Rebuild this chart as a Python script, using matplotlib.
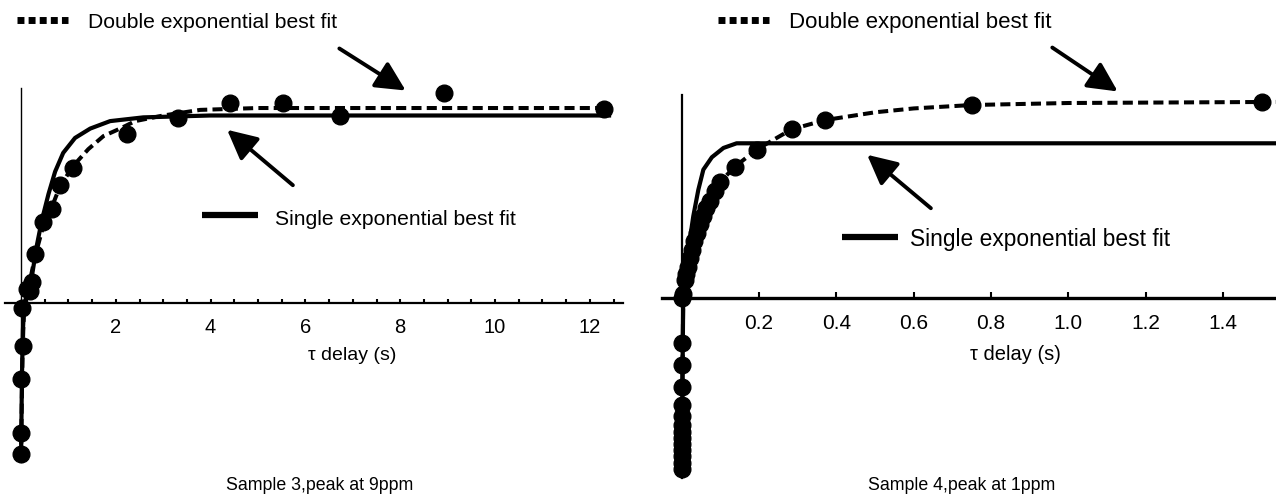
import matplotlib.pyplot as plt
from matplotlib.lines import Line2D
from matplotlib.patches import FancyArrowPatch

W, H = 1276, 495
plt.rcParams['font.family'] = ['Liberation Sans', 'DejaVu Sans']

# sample 3, peak at 9 ppm (left panel)
s3_delay = [0.0, 0.0, 0.0, 0.05, 0.015, 0.12, 0.19, 0.23, 0.30, 0.47, 0.65,
            0.82, 1.10, 2.23, 3.32, 4.41, 5.53, 6.73, 8.92, 12.3]
s3_signal = [-0.81, -0.70, -0.41, -0.23, -0.03, 0.07, 0.06, 0.11, 0.26, 0.43, 0.50,
             0.63, 0.72, 0.90, 0.985, 1.065, 1.065, 1.0, 1.12, 1.035]
s3_single_x = [0.0, 0.02, 0.04, 0.06, 0.09, 0.23, 0.33, 0.44, 0.58, 0.72, 0.89,
               1.14, 1.46, 1.88, 2.58, 3.99, 12.45]
s3_single_y = [-0.84, -0.40, -0.15, -0.05, 0.01, 0.14, 0.30, 0.44, 0.58, 0.70, 0.80,
               0.88, 0.93, 0.97, 0.99, 1.0, 1.0]
s3_double_x = [0.0, 0.03, 0.06, 0.15, 0.30, 0.47, 0.65, 0.82, 1.10, 1.42, 1.74,
               2.09, 2.41, 3.0, 3.78, 5.0, 12.45]
s3_double_y = [-0.84, -0.30, -0.05, 0.07, 0.25, 0.41, 0.51, 0.62, 0.73, 0.82, 0.89,
               0.93, 0.97, 1.0, 1.03, 1.04, 1.04]
s3_ticks = [2, 4, 6, 8, 10, 12]
s3_minor = [0.5 * i for i in range(1, 26)]

# sample 4, peak at 1 ppm (right panel)
s4_delay = [0.001, 0.001, 0.001, 0.001, 0.001, 0.001, 0.001, 0.001, 0.001, 0.001,
            0.001, 0.001, 0.001, 0.002, 0.004, 0.009, 0.012, 0.017, 0.021, 0.026,
            0.032, 0.039, 0.047, 0.056, 0.064, 0.073, 0.085, 0.099, 0.138, 0.194,
            0.284, 0.371, 0.75, 1.5]
s4_signal = [-1.10, -1.06, -1.02, -0.98, -0.94, -0.90, -0.86, -0.82, -0.76, -0.69,
             -0.57, -0.43, -0.29, 0.0, 0.03, 0.12, 0.16, 0.20, 0.26, 0.31,
             0.37, 0.42, 0.48, 0.53, 0.58, 0.63, 0.69, 0.75, 0.85, 0.96,
             1.09, 1.15, 1.247, 1.267]
s4_single_x = [0.0, 0.002, 0.004, 0.017, 0.03, 0.043, 0.056, 0.078, 0.108, 0.142, 1.54]
s4_single_y = [-1.12, -0.55, 0.02, 0.31, 0.53, 0.70, 0.83, 0.91, 0.97, 1.0, 1.0]
s4_double_x = [0.0, 0.002, 0.004, 0.009, 0.017, 0.026, 0.039, 0.056, 0.073, 0.099,
               0.138, 0.194, 0.284, 0.371, 0.5, 0.6, 0.75, 1.0, 1.54]
s4_double_y = [-1.12, -0.50, 0.03, 0.12, 0.20, 0.31, 0.42, 0.53, 0.63, 0.75,
               0.85, 0.96, 1.09, 1.15, 1.20, 1.225, 1.247, 1.26, 1.267]
s4_ticks = [0.2, 0.4, 0.6, 0.8, 1.0, 1.2, 1.4]
s4_tick_labels = ["0.2", "0.4", "0.6", "0.8", "1.0", "1.2", "1.4"]


def px(x, y):
    return x / W, 1 - y / H


def panel(fig, box, xlim, ylim, spine_w):
    left, top, right, bottom = box
    ax = fig.add_axes([left / W, 1 - bottom / H, (right - left) / W, (bottom - top) / H])
    ax.set_xlim(*xlim)
    ax.set_ylim(*ylim)
    for side in ("top", "right"):
        ax.spines[side].set_visible(False)
    ax.spines["left"].set_position(("data", 0))
    ax.spines["bottom"].set_position(("data", 0))
    ax.spines["left"].set_linewidth(spine_w[0])
    ax.spines["bottom"].set_linewidth(spine_w[1])
    ax.set_yticks([])
    ax.patch.set_visible(False)
    return ax


def draw_fits(ax, sx, sy, dx, dy, tx, ty):
    ax.plot(sx, sy, color="black", lw=3.0, solid_capstyle="butt", zorder=3)
    ax.plot(dx, dy, color="black", lw=2.9, linestyle=(0, (2.5, 1.3)),
            dash_capstyle="butt", zorder=3)
    ax.plot(tx, ty, "o", color="black", markersize=12, clip_on=False, zorder=4)


def squares(fig, x0, x1, y):
    fig.add_artist(Line2D([x0 / W, x1 / W], [1 - y / H, 1 - y / H], transform=fig.transFigure,
                          color="black", lw=5, linestyle=(0, (1.0, 0.6)), dash_capstyle="butt"))


def solid_sample(fig, x0, x1, y):
    fig.add_artist(Line2D([x0 / W, x1 / W], [1 - y / H, 1 - y / H], transform=fig.transFigure,
                          color="black", lw=4.5, solid_capstyle="butt"))


def arrow(fig, tail, tip):
    fig.add_artist(FancyArrowPatch(px(*tail), px(*tip), transform=fig.transFigure,
                                   arrowstyle="-|>,head_length=0.9,head_width=0.45",
                                   mutation_scale=20, lw=2.8, color="black"))


fig = plt.figure(figsize=(W / 100, H / 100), dpi=100)

# left panel
ax1 = panel(fig, (5, 88, 623, 462), (-16 / 47.4, 602 / 47.4),
            ((302.5 - 462) / 187, (302.5 - 88) / 187), (1.0, 1.6))
draw_fits(ax1, s3_single_x, s3_single_y, s3_double_x, s3_double_y, s3_delay, s3_signal)
ax1.set_xticks(s3_ticks)
ax1.set_xticks(s3_minor, minor=True)
ax1.tick_params(axis="x", which="both", direction="in", length=3, width=1.5,
                labelsize=14.5, pad=11)

# right panel
ax2 = panel(fig, (662, 95, 1276, 478), (-19.7 / 386.7, 594.3 / 386.7),
            ((298.3 - 478) / 155, (298.3 - 95) / 155), (1.6, 2.4))
draw_fits(ax2, s4_single_x, s4_single_y, s4_double_x, s4_double_y, s4_delay, s4_signal)
ax2.set_xticks(s4_ticks)
ax2.set_xticklabels(s4_tick_labels)
ax2.tick_params(axis="x", which="both", direction="in", length=4, width=1.5,
                labelsize=15, pad=11)

# legends, arrows and captions
squares(fig, 17, 68, 20)
fig.text(*px(88, 28), "Double exponential best fit", fontsize=15.2, va="baseline")
arrow(fig, (337, 47), (408, 92))
solid_sample(fig, 202, 258, 215)
fig.text(*px(275, 225), "Single exponential best fit", fontsize=15.2, va="baseline")
arrow(fig, (295, 187), (225, 128))

squares(fig, 718, 769, 20)
fig.text(*px(789, 28), "Double exponential best fit", fontsize=16, va="baseline")
arrow(fig, (1050, 46), (1120, 93))
solid_sample(fig, 842, 898, 237)
fig.text(*px(910, 246), "Single exponential best fit", fontsize=16.4, va="baseline")
arrow(fig, (933, 210), (865, 153))

fig.text(*px(352, 360), "\u03c4 delay (s)", fontsize=14, ha="center", va="baseline")
fig.text(*px(1015, 360), "\u03c4 delay (s)", fontsize=14.5, ha="center", va="baseline")
fig.text(*px(320, 490), "Sample 3,peak at 9ppm", fontsize=12.8, ha="center", va="baseline")
fig.text(*px(962, 490), "Sample 4,peak at 1ppm", fontsize=12.8, ha="center", va="baseline")

fig.savefig("out.png", dpi=100)
